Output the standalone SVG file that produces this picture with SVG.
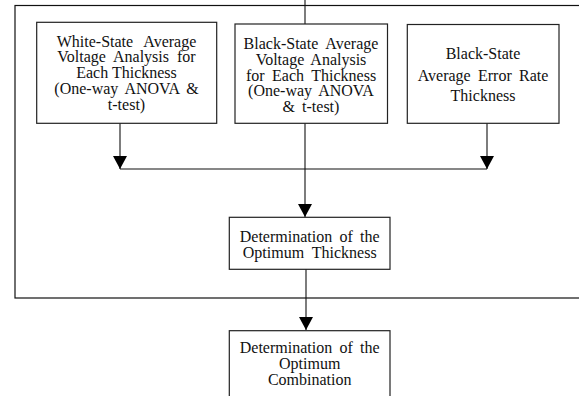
<svg xmlns="http://www.w3.org/2000/svg" width="579" height="396" viewBox="0 0 579 396">
<style>
.box{fill:#fff;stroke:#222;stroke-width:1.2}
.frame{fill:none;stroke:#111;stroke-width:1.2}
.ln{fill:none;stroke:#111;stroke-width:1.1}
text{font-family:"Liberation Serif","Times New Roman",serif;font-size:16px;fill:#111;text-anchor:middle}
</style>
<defs>
<marker id="ah" markerWidth="13" markerHeight="14" refX="13" refY="7" orient="auto" markerUnits="userSpaceOnUse" viewBox="0 0 13 14">
<path d="M0,0 L13,7 L0,14 Z" fill="#000"/>
</marker>
</defs>
<rect class="frame" x="15" y="5.5" width="620" height="292.5"/>
<g id="connectors">
<line class="ln" x1="305" y1="0" x2="305" y2="24"/>
<line class="ln" x1="120" y1="123" x2="120" y2="169" marker-end="url(#ah)"/>
<line class="ln" x1="487" y1="123" x2="487" y2="169" marker-end="url(#ah)"/>
<line class="ln" x1="120" y1="169" x2="487" y2="169"/>
<line class="ln" x1="305" y1="123" x2="305" y2="217" marker-end="url(#ah)"/>
<line class="ln" x1="306" y1="269" x2="306" y2="330" marker-end="url(#ah)"/>
</g>
<g id="white-state">
<rect class="box" x="36.7" y="22.3" width="180" height="101"/>
<text x="126.5" y="46.5" word-spacing="7">White-State Average</text>
<text x="126.5" y="62.3" word-spacing="4">Voltage Analysis for</text>
<text x="126.5" y="78">Each Thickness</text>
<text x="126.5" y="94" word-spacing="3">(One-way ANOVA &amp;</text>
<text x="126.5" y="110">t-test)</text>
</g>
<g id="black-state-voltage">
<rect class="box" x="235" y="24" width="152.5" height="99.3"/>
<text x="311" y="49" word-spacing="4">Black-State Average</text>
<text x="311" y="65" word-spacing="3">Voltage Analysis</text>
<text x="311" y="80.5" word-spacing="3.5">for Each Thickness</text>
<text x="311" y="96" word-spacing="3">(One-way ANOVA</text>
<text x="311" y="111.5" word-spacing="3">&amp; t-test)</text>
</g>
<g id="black-state-error">
<rect class="box" x="407.3" y="24.5" width="151.7" height="98.8"/>
<text x="483" y="59.3">Black-State</text>
<text x="483" y="80.5" word-spacing="3.3">Average Error Rate</text>
<text x="483" y="101">Thickness</text>
</g>
<g id="optimum-thickness">
<rect class="box" x="229.3" y="217.3" width="160.7" height="52"/>
<text x="309.7" y="241.7" word-spacing="3.3">Determination of the</text>
<text x="309.7" y="257.7" word-spacing="4">Optimum Thickness</text>
</g>
<g id="optimum-combination">
<rect class="box" x="229.3" y="330.7" width="160.7" height="80"/>
<text x="309.7" y="353.3" word-spacing="3.3">Determination of the</text>
<text x="309.7" y="369">Optimum</text>
<text x="309.7" y="385">Combination</text>
</g>
</svg>
